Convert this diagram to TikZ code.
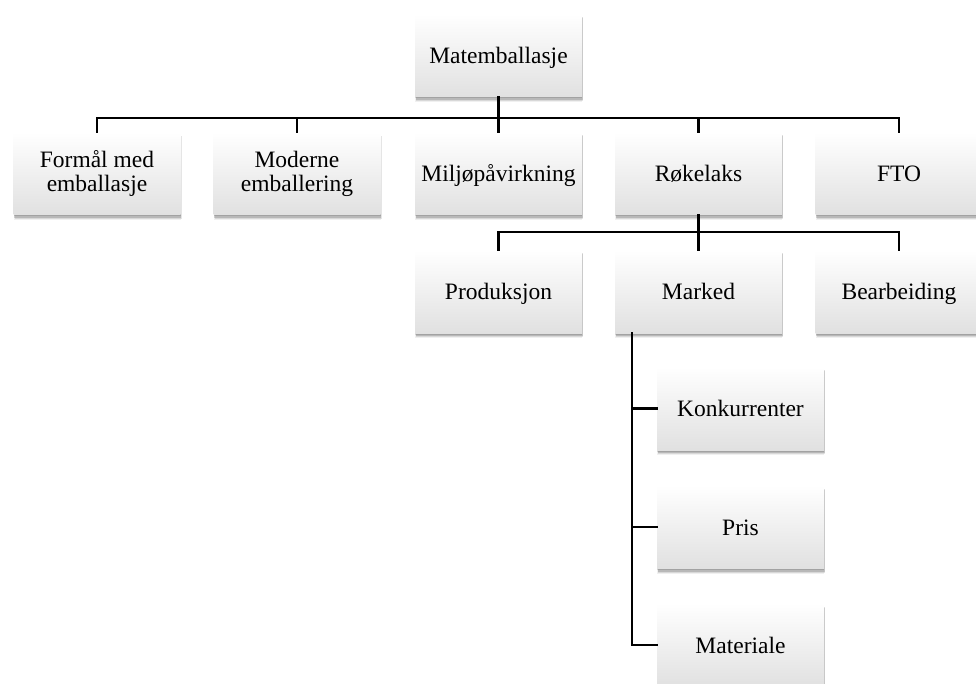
\documentclass[tikz,border=0pt]{standalone}
\usepackage{fontspec}
\setmainfont{Liberation Serif}
\usetikzlibrary{shadows}
\begin{document}
\begin{tikzpicture}[x=1pt,y=-1pt,
  box/.style={draw=none, minimum width=167pt, minimum height=83pt, inner sep=0pt,
    align=center, font=\fontsize{23.5}{24}\selectfont,
    top color=white, middle color=white, bottom color=black!12,
    drop shadow={shadow xshift=0pt, shadow yshift=-5pt, fill=black, opacity=0.06},
    drop shadow={shadow xshift=1pt, shadow yshift=-4pt, fill=black, opacity=0.1},
    drop shadow={shadow xshift=0.5pt, shadow yshift=-3pt, fill=black, opacity=0.15},
    drop shadow={shadow xshift=0pt, shadow yshift=-1.5pt, fill=black, opacity=0.12}},
  onebox/.style={box, text height=18pt, text depth=2pt},
  conn/.style={line width=2.3pt, line cap=rect}]
\useasboundingbox (0,0) rectangle (976,684);
\begin{scope}
\clip (0,0) rectangle (976,684);
\node[onebox] (root) at (498.5,55.5) {Matemballasje};
\node[box] (formal) at (97,173.5) {Formål med\\emballasje};
\node[box] (moderne) at (297,173.5) {Moderne\\emballering};
\node[onebox] (miljo) at (498.5,173.5) {Miljøpåvirkning};
\node[onebox] (roke) at (698.5,173.5) {Røkelaks};
\node[onebox] (fto) at (899,173.5) {FTO};
\node[onebox] (prod) at (498.5,291.5) {Produksjon};
\node[onebox] (marked) at (698.5,291.5) {Marked};
\node[onebox] (bearb) at (899,291.5) {Bearbeiding};
\node[onebox] (konk) at (740.5,408.5) {Konkurrenter};
\node[onebox] (pris) at (740.5,527) {Pris};
\node[onebox] (mat) at (740.5,645) {Materiale};
\coordinate (bus1) at ([yshift=-21pt]root.south);
\coordinate (bus2) at ([yshift=-17pt]roke.south);
\coordinate (mk) at ([xshift=17pt]marked.south west);
\foreach \c in {formal,moderne,miljo,roke,fto}
  \draw[conn] (root.south) -- (bus1) -| (\c.north);
\foreach \c in {prod,marked,bearb}
  \draw[conn] (roke.south) -- (bus2) -| (\c.north);
\foreach \c in {konk,pris,mat}
  \draw[conn] (mk) |- (\c.west);
\end{scope}
\end{tikzpicture}
\end{document}
